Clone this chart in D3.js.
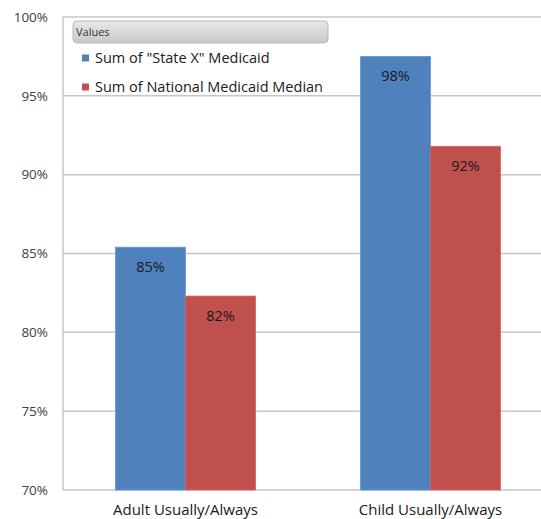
<!DOCTYPE html>
<html><head><meta charset="utf-8">
<script src="https://cdn.jsdelivr.net/npm/d3@7"></script>
<style>body{margin:0;background:#fff;} text{font-family:"Open Sans","Liberation Sans",sans-serif;}</style>
</head><body><svg id="c" width="541" height="519"></svg>
<script>
const categories = ["Adult Usually/Always", "Child Usually/Always"];
const seriesNames = ["Sum of \"State X\" Medicaid", "Sum of National Medicaid Median"];
const stateValues = [85.4, 97.5];
const nationalValues = [82.3, 91.8];
const seriesColors = ["#4F81BD", "#C0504D"];
const yTicks = [70, 75, 80, 85, 90, 95, 100];
const legendTitle = "Values";

const svg = d3.select("#c");
const L = 63, R = 553, T = 17, B = 490;
const x = d3.scaleBand().domain(categories).range([L, R]).padding(0);
const x1 = d3.scaleBand().domain([0, 1]).range([0, 140]);
const y = d3.scaleLinear().domain([70, 100]).range([B, T]);
const textCol = "#404040";
const ff = "'Open Sans','Liberation Sans',sans-serif";

// gridlines
svg.append("g").selectAll("line").data(yTicks).join("line")
  .attr("x1", L).attr("x2", R).attr("y1", d => y(d)).attr("y2", d => y(d))
  .attr("stroke", "#c6c6c6").attr("stroke-width", 1.5);
svg.append("line").attr("x1", L).attr("x2", L).attr("y1", T).attr("y2", B)
  .attr("stroke", "#c6c6c6").attr("stroke-width", 1.5);

// y axis labels
const yAxis = d3.axisLeft(y).tickValues(yTicks).tickSize(0).tickPadding(15).tickFormat(d => d + "%");
const ya = svg.append("g").attr("transform", `translate(${L},0)`).call(yAxis);
ya.select(".domain").remove();
ya.selectAll("text").attr("font-size", 13.5).attr("fill", textCol).attr("font-family", ff);

// x axis labels
const xAxis = d3.axisBottom(x).tickSize(0).tickPadding(0);
const xa = svg.append("g").attr("transform", `translate(0,${B})`).call(xAxis);
xa.select(".domain").remove();
xa.selectAll("text").attr("font-size", 15).attr("fill", "#202020").attr("font-family", ff)
  .attr("dy", null).attr("y", 24.5);

// bars
const series = [stateValues, nationalValues];
const groups = svg.append("g").selectAll("g").data(categories).join("g")
  .attr("transform", d => `translate(${x(d) + x.bandwidth()/2 - 70},0)`);
groups.each(function(cat, ci) {
  const g = d3.select(this);
  series.forEach((vals, si) => {
    const v = vals[ci];
    g.append("rect").attr("x", x1(si)).attr("width", x1.bandwidth())
      .attr("y", y(v)).attr("height", B - y(v))
      .attr("fill", seriesColors[si])
      .attr("stroke", d3.color(seriesColors[si]).brighter(0.5)).attr("stroke-width", 0.8);
    g.append("text").attr("x", x1(si) + x1.bandwidth()/2).attr("y", y(v) + 24.5)
      .attr("text-anchor", "middle").attr("font-size", 14.5).attr("fill", "#1a1a1a")
      .text(Math.round(v) + "%");
  });
});

// legend
const lg = svg.append("g");
const grad = svg.append("defs").append("linearGradient").attr("id", "hg")
  .attr("x1", 0).attr("x2", 0).attr("y1", 0).attr("y2", 1);
grad.append("stop").attr("offset", "0%").attr("stop-color", "#e8e8e8");
grad.append("stop").attr("offset", "100%").attr("stop-color", "#c8c8c8");
lg.append("rect").attr("x", 73).attr("y", 21).attr("width", 255).attr("height", 22)
  .attr("rx", 4).attr("fill", "url(#hg)").attr("stroke", "#b8b8b8");
lg.append("text").attr("x", 76).attr("y", 36).attr("font-size", 11).attr("fill", "#333").text(legendTitle);
seriesNames.forEach((n, i) => {
  const cy = 58 + i * 29;
  lg.append("rect").attr("x", 82).attr("y", cy - 3.5).attr("width", 7).attr("height", 7).attr("fill", seriesColors[i]);
  lg.append("text").attr("x", 95).attr("y", cy + 5).attr("font-size", 14.5).attr("fill", "#202020").text(n);
});
</script></body></html>
